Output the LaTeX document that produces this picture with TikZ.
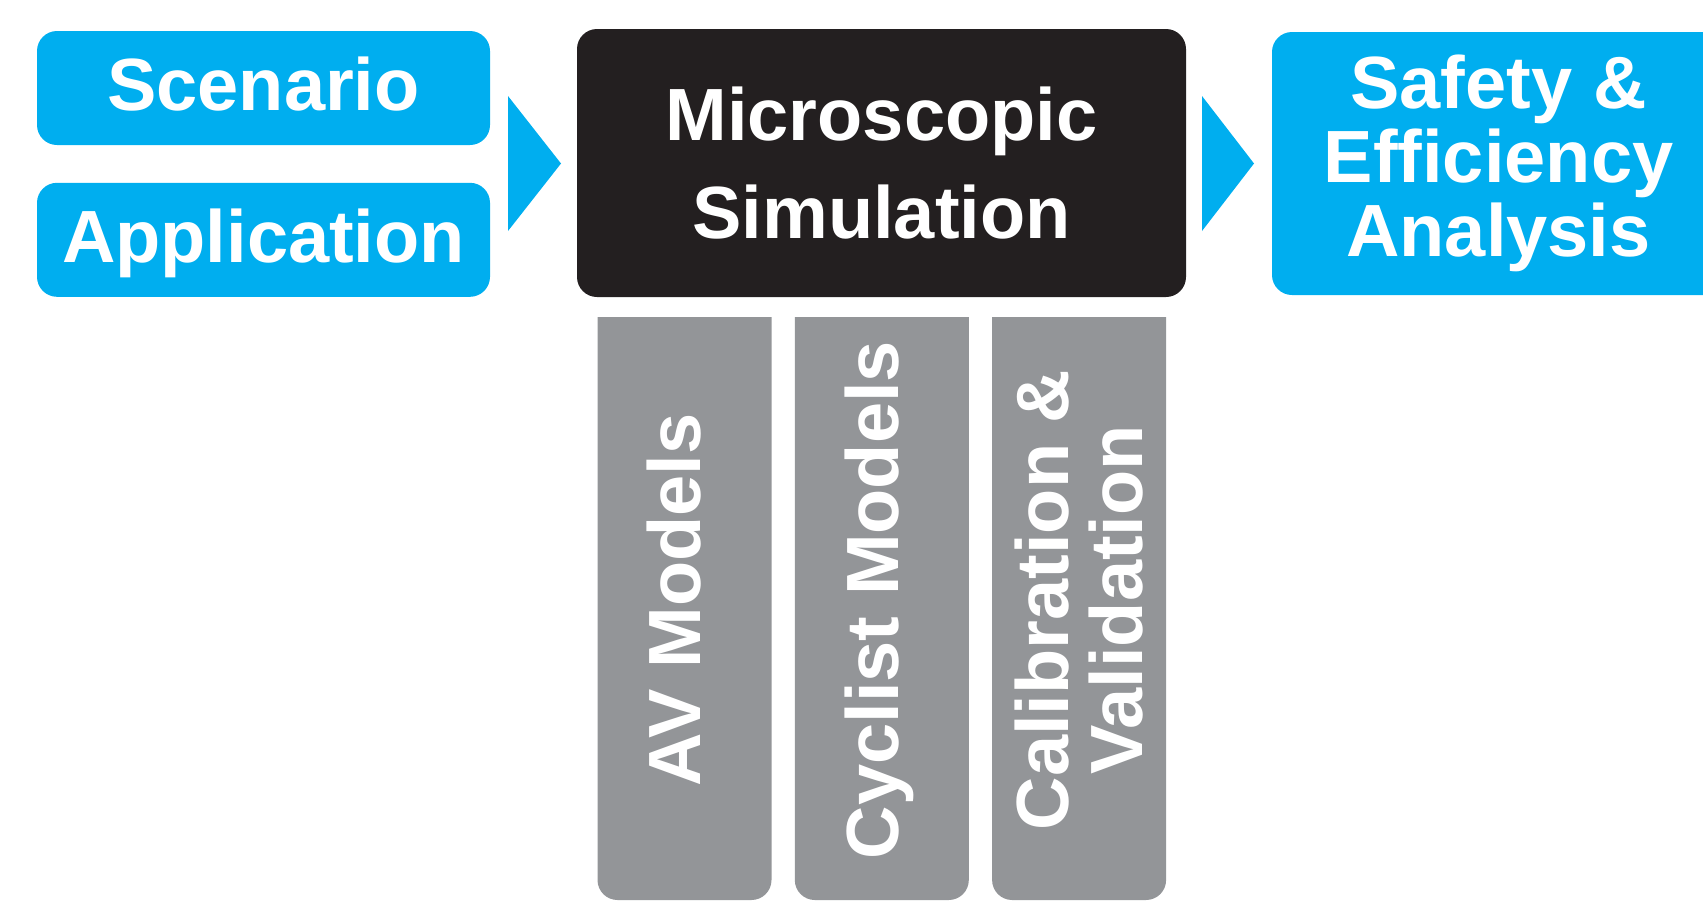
\documentclass[tikz,border=0pt]{standalone}
\usepackage{fontspec}
\setmainfont{Liberation Sans}
\usetikzlibrary{positioning,calc}
\definecolor{skyblue}{HTML}{00AEEF}
\definecolor{simblack}{HTML}{231F20}
\definecolor{modelgray}{HTML}{939598}

\begin{document}
\begin{tikzpicture}[
  x=0.5pt,y=-0.5pt,
  txt/.style={text=white,font=\fontsize{37}{37}\selectfont\bfseries,align=center,inner sep=0pt},
  inbox/.style={txt,fill=skyblue,rounded corners=10pt,minimum width=226.5pt,minimum height=57pt,text height=28.1pt,text depth=5.2pt},
  simbox/.style={txt,fill=simblack,rounded corners=10pt,minimum width=304.5pt,minimum height=134pt,font=\fontsize{37}{49}\selectfont\bfseries},
  outbox/.style={txt,fill=skyblue,rounded corners=10pt,minimum width=226.5pt,minimum height=131.5pt},
  bar/.style={fill=modelgray,rounded corners=10pt,minimum width=87pt,minimum height=301.5pt,inner sep=0pt},
  vlabel/.style={txt,rotate=90},
  chev/.style={fill=skyblue}
]
  \useasboundingbox (0,0) rectangle (1703,900);
  \clip (0,0) rectangle (1703,900);

  % inputs
  \node[inbox] (scn) at (263.5,88) {Scenario};
  \node[inbox,below=18.5pt of scn] (app) {Application};

  % core simulation and outcome
  \node[simbox] (sim) at (881.5,163) {Microscopic\\Simulation};
  \node[outbox] (res) at (1498.5,163.5) {Safety \&\\Efficiency\\Analysis};

  % chevrons between the stages
  \fill[chev] (508,96) -- (561,163.5) -- (508,231) -- cycle;
  \fill[chev] (1202,96) -- (1254,163.5) -- (1202,231) -- cycle;

  % supporting model columns: tops cut square by the clip
  \begin{scope}
    \clip (0,317) rectangle (1703,900);
    \node[bar] (av) at (684.5,598.5) {};
    \node[bar,right=11.25pt of av] (cyc) {};
    \node[bar,right=11.25pt of cyc] (cal) {};
  \end{scope}

  \node[vlabel] (avl) at ($(av.center)+(-10.5,1.5)$) {AV Models};
  \node[vlabel] (cycl) at ($(cyc.center)+(-2,1.5)$) {Cyclist Models};
  \node[vlabel] (call) at ($(cal.center)+(0,1.5)$) {Calibration \&\\Validation};
\end{tikzpicture}
\end{document}
